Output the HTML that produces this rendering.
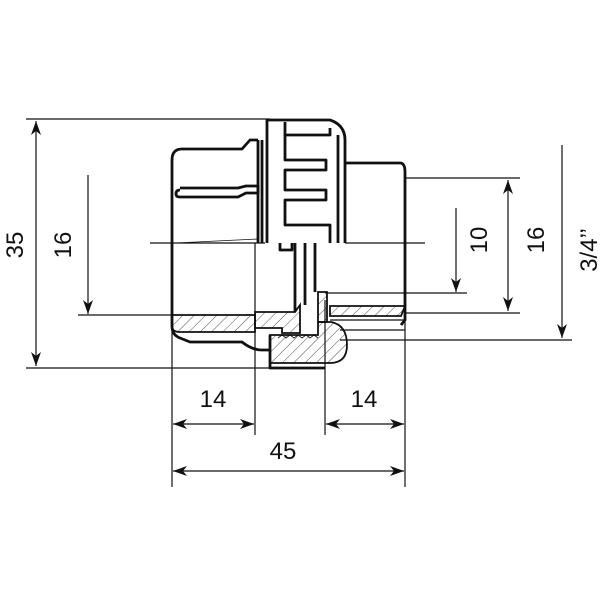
<!DOCTYPE html>
<html><head><style>body{margin:0;background:#fff}svg{display:block}text{font-family:"Liberation Sans","DejaVu Sans",sans-serif;fill:#111}</style></head><body>
<svg width="603" height="603" viewBox="0 0 603 603" xmlns="http://www.w3.org/2000/svg">
<defs>
<pattern id="h" patternUnits="userSpaceOnUse" width="8" height="8" patternTransform="rotate(45)"><line x1="0" y1="0" x2="0" y2="8" stroke="#222" stroke-width="0.8"/></pattern>
<marker id="a" viewBox="0 0 14 10" refX="14" refY="5" markerWidth="14" markerHeight="10" orient="auto-start-reverse" markerUnits="userSpaceOnUse"><path d="M0,0 L14,5 L0,10 L4,5 Z" fill="#111"/></marker>
</defs>
<g stroke="#111" stroke-width="1.2" fill="none">
<line x1="26" y1="119" x2="270" y2="119"/>
<line x1="26" y1="368" x2="270" y2="368"/>
<line x1="78" y1="315" x2="172" y2="315"/>
<line x1="405" y1="178" x2="520" y2="178"/>
<line x1="405" y1="313" x2="520" y2="313"/>
<line x1="325" y1="293" x2="467" y2="293"/>
<line x1="340" y1="340" x2="572" y2="340"/>
<line x1="150" y1="243" x2="265" y2="243"/>
<line x1="345" y1="243" x2="425" y2="243"/>
<line x1="172" y1="330" x2="172" y2="487"/>
<line x1="255" y1="243" x2="255" y2="435"/>
<line x1="325" y1="300" x2="325" y2="435"/>
<line x1="405" y1="320" x2="405" y2="487"/>
<line x1="330" y1="320" x2="405" y2="320"/>
<line x1="340" y1="330" x2="405" y2="330"/>
<line x1="36" y1="121" x2="36" y2="366" marker-start="url(#a)" marker-end="url(#a)"/>
<line x1="88" y1="175" x2="88" y2="314" marker-end="url(#a)"/>
<line x1="508" y1="180" x2="508" y2="311" marker-start="url(#a)" marker-end="url(#a)"/>
<line x1="456" y1="208" x2="456" y2="292" marker-end="url(#a)"/>
<line x1="562" y1="145" x2="562" y2="338" marker-end="url(#a)"/>
<line x1="173" y1="424" x2="254" y2="424" marker-start="url(#a)" marker-end="url(#a)"/>
<line x1="326" y1="424" x2="404" y2="424" marker-start="url(#a)" marker-end="url(#a)"/>
<line x1="173" y1="471" x2="404" y2="471" marker-start="url(#a)" marker-end="url(#a)"/>
</g>
<g fill="url(#h)" stroke="#111" stroke-width="1.8">
<path d="M172,315 H255 V332 H180 Q172,332 172,326 Z"/>
<path d="M255,312 H295 L300,305 V333 H282 V328 H255 Z"/>
<path d="M270,335 H318 V322 L331,322 Q347,325 347,345 Q347,363 330,363 H270 Z"/>
<path d="M318,292 H327 V322 H318 Z"/>
<path d="M330,306 H405 L401,316 H330 Z"/>
</g>
<g stroke="#111" stroke-width="2.8" fill="none" stroke-linejoin="round">
<path d="M258,140 H250 L242,149 H182 Q172,149 172,160 V326 Q172,335 180,338 L190,342 H242 Q252,350 262,350 H270"/>
<path d="M180,190 Q176,190 176,194 Q176,197 180,197 H238 L246,193 H258 V186 H246 L238,188 H180"/>
<path d="M258,140 V243"/>
<path d="M262,140 V243"/>
<path d="M267,243 V120 H330 Q345,125 345,140 V243"/>
<path d="M285,122 V135 H330 V128"/>
<path d="M285,135 V160 H326 V170 H285 V190 H326 V200 H285 V225 H330 V243"/>
<path d="M280,243 V250 H292 V243"/>
<path d="M338,135 V243"/>
<path d="M345,163 H400 Q405,163 405,172 V320 L401,325"/>
<path d="M295,243 V312"/>
<path d="M305,243 V305"/>
<path d="M315,243 V292"/>
<path d="M270,335 V368 H325"/>
</g>
<g stroke="#111" stroke-width="0.8">
<line x1="176" y1="243" x2="258" y2="239"/>
<path d="M278,338 l4,-3 l4,3 l4,-3 l4,3 l4,-3 l4,3 l4,-3 l4,3 l4,-3 l4,3" fill="none"/>
</g>
<g font-size="24">
<text text-anchor="middle" transform="translate(23,245) rotate(-90)">35</text>
<text text-anchor="middle" transform="translate(71,245) rotate(-90)">16</text>
<text text-anchor="middle" transform="translate(487,240) rotate(-90)">10</text>
<text text-anchor="middle" transform="translate(544,240) rotate(-90)">16</text>
<text text-anchor="middle" transform="translate(597,250) rotate(-90)">3/4’’</text>
<text x="213" y="407" text-anchor="middle">14</text>
<text x="364" y="407" text-anchor="middle">14</text>
<text x="283" y="459" text-anchor="middle">45</text>
</g>
</svg>
</body></html>
